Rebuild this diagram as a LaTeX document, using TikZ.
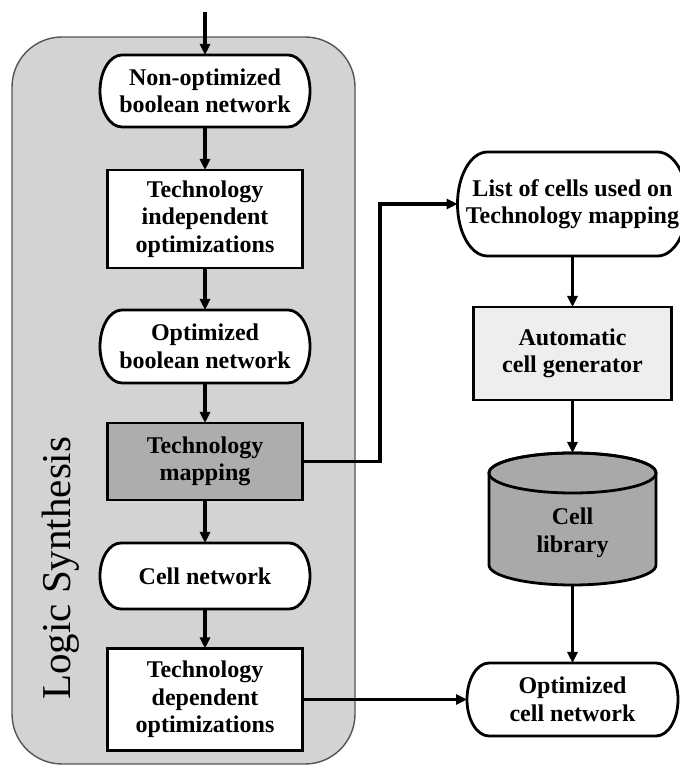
\documentclass[tikz,border=0pt]{standalone}
\usepackage{fontspec}
\setmainfont{Liberation Serif}
\usetikzlibrary{arrows.meta}
\definecolor{contgray}{HTML}{D3D3D3}
\definecolor{contedge}{HTML}{555555}
\definecolor{mapgray}{HTML}{ADADAD}
\definecolor{libgray}{HTML}{A9A9A9}
\definecolor{gengray}{HTML}{EEEEEE}
\newcommand{\stadshape}[5]{%
  \draw[stadsty] ({#1+#3/2-#5},{#2+#4/2})
    arc[start angle=90,end angle=-90,x radius=#5,y radius=#4/2]
    -- ({#1-#3/2+#5},{#2-#4/2})
    arc[start angle=270,end angle=90,x radius=#5,y radius=#4/2]
    -- cycle;}
\begin{document}
\begin{tikzpicture}[x=1pt,y=1pt,
  lbl/.style={font=\bfseries\fontsize{24}{27.5}\selectfont, align=center, inner sep=0pt, outer sep=0pt},
  boxnode/.style={lbl, draw=black, line width=2.8pt},
  stadsty/.style={fill=white, draw=black, line width=2.8pt},
  cylsty/.style={fill=libgray, draw=black, line width=2.8pt},
  conn/.style={line width=3.2pt, -{Triangle[length=11pt,width=10pt]}},
]
\useasboundingbox (0,0) rectangle (680,766);
\fill[white] (0,0) rectangle (680,766);
% container
\draw[fill=contgray, draw=contedge, line width=1.4pt, rounded corners=50pt] (12,2) rectangle (355,729);
\node[rotate=90, anchor=base west, inner sep=0pt, font=\fontsize{41}{41}\selectfont] (ls) at (70,66) {Logic Synthesis};
% left column
\stadshape{205}{675}{210}{72}{22}
\node[lbl, minimum width=210pt, minimum height=72pt] (n1) at (205,675) {Non-optimized\\boolean network};
\node[boxnode, fill=white, minimum width=195pt, minimum height=98pt] (n2) at (205,547) {Technology\\independent\\optimizations};
\stadshape{205}{419.5}{210}{73}{22}
\node[lbl, minimum width=210pt, minimum height=73pt] (n3) at (205,419.5) {Optimized\\boolean network};
\node[boxnode, fill=mapgray, minimum width=195pt, minimum height=77pt] (n4) at (205,304.5) {Technology\\mapping};
\stadshape{205}{190}{210}{66}{21}
\node[lbl, minimum width=210pt, minimum height=66pt] (n5) at (205,190) {Cell network};
\node[boxnode, fill=white, minimum width=195pt, minimum height=102pt] (n6) at (205,66.5) {Technology\\dependent\\optimizations};
% right column
\stadshape{572.5}{562}{230}{104}{30}
\node[lbl, minimum width=230pt, minimum height=104pt] (n7) at (572.5,562) {List of cells used on\\Technology mapping};
\node[boxnode, fill=gengray, minimum width=198pt, minimum height=93pt] (n8) at (572.5,412.5) {Automatic\\cell generator};
\draw[cylsty] (489,293) -- (489,201)
  arc[start angle=180,end angle=360,x radius=83.5,y radius=20]
  -- (656,293)
  arc[start angle=0,end angle=180,x radius=83.5,y radius=20] -- cycle;
\draw[line width=2.8pt] (572.5,293) ellipse[x radius=83.5,y radius=20];
\node[inner sep=0pt, outer sep=0pt, minimum width=167pt, minimum height=132pt] (lib) at (572.5,247) {};
\node[lbl] (libtxt) at (572.5,233) {Cell\\library};
\stadshape{572.5}{66.5}{211}{73}{22}
\node[lbl, minimum width=211pt, minimum height=73pt] (n10) at (572.5,66.5) {Optimized\\cell network};
% connectors
\coordinate (in) at (205,754);
\draw[conn] (in) -- (n1.north);
\draw[conn] (n1.south) -- (n2.north);
\draw[conn] (n2.south) -- (n3.north);
\draw[conn] (n3.south) -- (n4.north);
\draw[conn] (n4.south) -- (n5.north);
\draw[conn] (n5.south) -- (n6.north);
\draw[conn] (n4.east) -- ++(77.5,0) |- (n7.west);
\draw[conn] (n6.east) -- (n10.west);
\draw[conn] (n7.south) -- (n8.north);
\draw[conn] (n8.south) -- (lib.north);
\draw[conn] (lib.south) -- (n10.north);
\end{tikzpicture}
\end{document}
